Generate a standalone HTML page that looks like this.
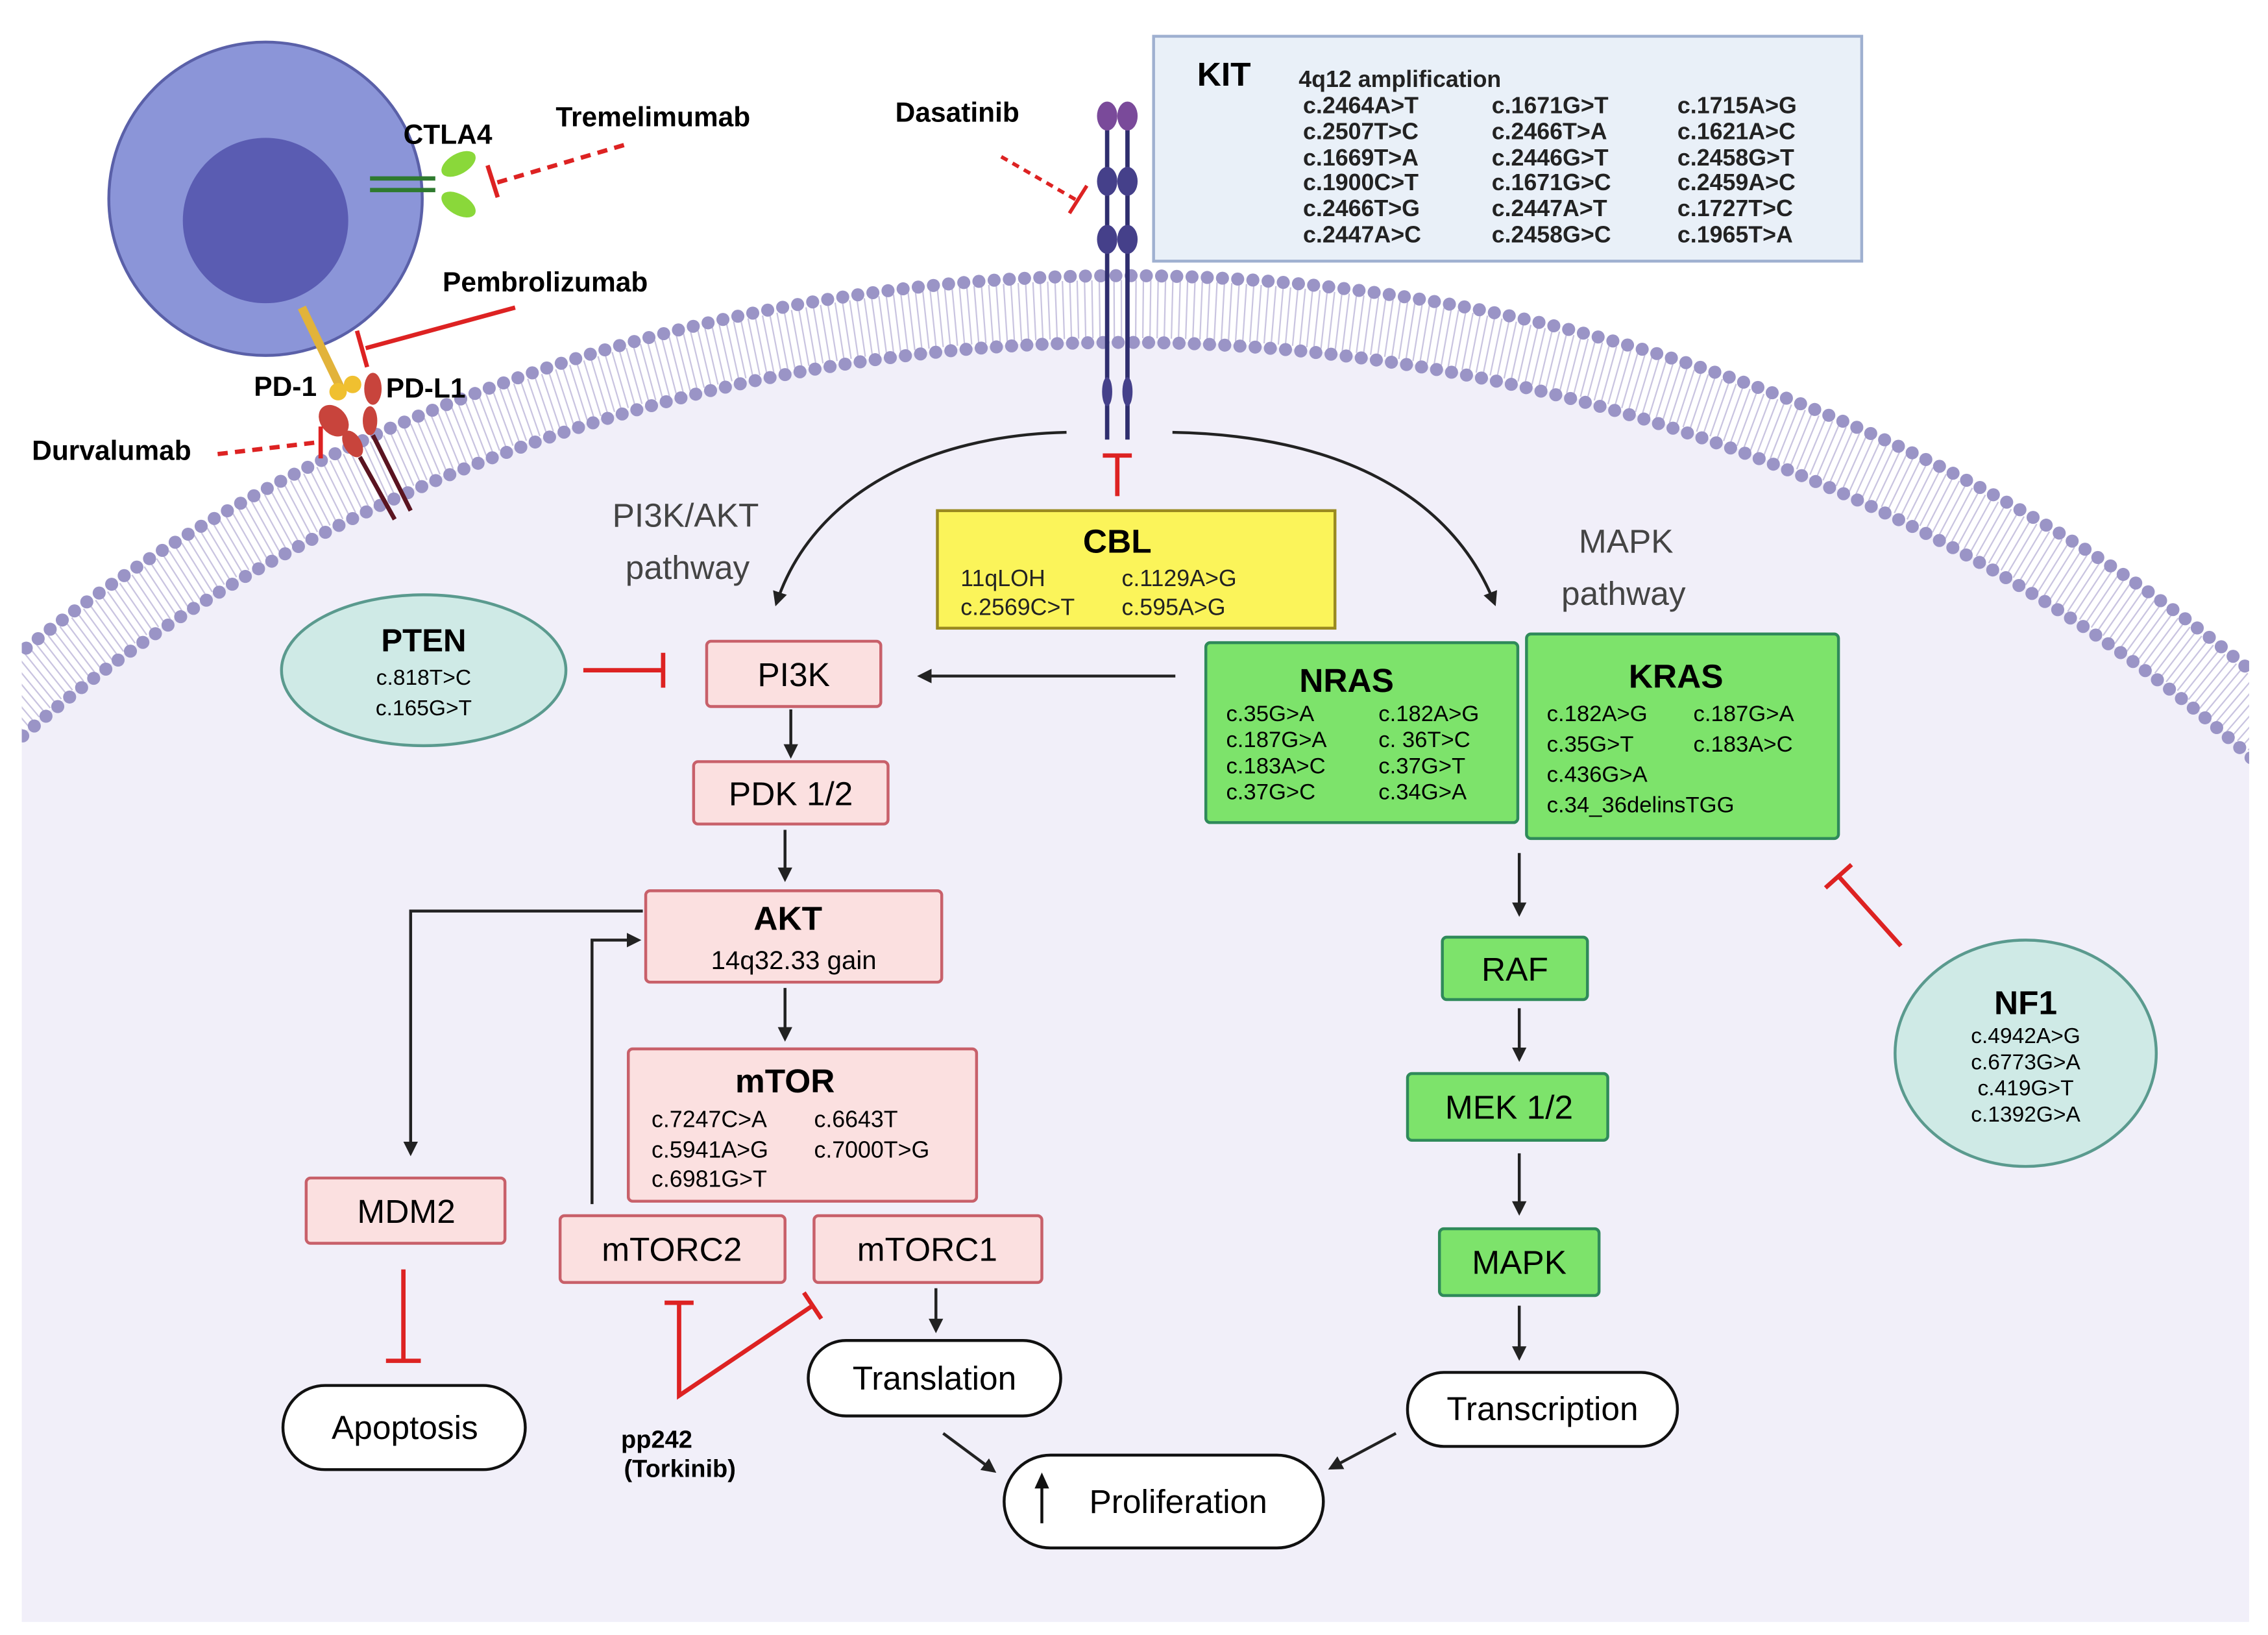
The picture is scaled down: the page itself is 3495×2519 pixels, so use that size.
<!DOCTYPE html>
<html><head><meta charset="utf-8"><style>html,body{margin:0;padding:0;background:#fff;width:3495px;height:2519px;overflow:hidden}svg{display:block}text{font-family:"Liberation Sans",sans-serif}</style></head><body>
<svg width="3495" height="2519" viewBox="0 0 1563 1127" preserveAspectRatio="none" xmlns="http://www.w3.org/2000/svg">
<defs>
<clipPath id="c"><rect x="15" y="0" width="1535" height="1118"/></clipPath>
<marker id="a" markerWidth="10" markerHeight="10" refX="8" refY="5" orient="auto" markerUnits="userSpaceOnUse"><path d="M0,0 L10,5 L0,10 z" fill="#222"/></marker>
</defs>
<rect width="1563" height="1127" fill="#fff"/>
<g clip-path="url(#c)">
<ellipse cx="775" cy="1150" rx="1070" ry="915" fill="#f1eff9"/>
<ellipse cx="775" cy="1150" rx="1090" ry="937" fill="none" stroke="#c9c4e0" stroke-width="40" stroke-dasharray="1 4"/>
<ellipse cx="775" cy="1150" rx="1112" ry="960" fill="none" stroke="#9a94c6" stroke-width="9" stroke-linecap="round" stroke-dasharray="0 10.5"/>
<ellipse cx="775" cy="1150" rx="1068" ry="914" fill="none" stroke="#9a94c6" stroke-width="9" stroke-linecap="round" stroke-dasharray="0 10.5"/>
</g>
<!-- T cell -->
<circle cx="183" cy="137" r="108" fill="#8b95d8" stroke="#5a60a8" stroke-width="2"/>
<circle cx="183" cy="152" r="57" fill="#5a5cb2"/>
<line x1="255" y1="123" x2="300" y2="123" stroke="#2e7a2e" stroke-width="3"/>
<line x1="255" y1="131" x2="300" y2="131" stroke="#2e7a2e" stroke-width="3"/>
<ellipse cx="316" cy="113" rx="13" ry="7" fill="#8ad83a" transform="rotate(-30 316 113)"/>
<ellipse cx="316" cy="141" rx="13" ry="7" fill="#8ad83a" transform="rotate(30 316 141)"/>
<text x="278" y="99" font-size="19" font-weight="bold">CTLA4</text>
<text x="383" y="87" font-size="19" font-weight="bold">Tremelimumab</text>
<line x1="430" y1="100" x2="342" y2="126" stroke="#d22" stroke-width="3" stroke-dasharray="7 5"/>
<line x1="336" y1="114" x2="343" y2="136" stroke="#d22" stroke-width="3"/>
<text x="617" y="84" font-size="19" font-weight="bold">Dasatinib</text>
<line x1="690" y1="108" x2="742" y2="138" stroke="#d22" stroke-width="2.5" stroke-dasharray="5 4"/>
<line x1="737" y1="147" x2="749" y2="128" stroke="#d22" stroke-width="2.5"/>
<!-- KIT receptor -->
<line x1="763" y1="75" x2="763" y2="303" stroke="#2f2e6e" stroke-width="3"/>
<line x1="777" y1="75" x2="777" y2="303" stroke="#2f2e6e" stroke-width="3"/>
<g fill="#5a4a9a"><ellipse cx="763" cy="80" rx="7" ry="10" fill="#7a4a9a"/><ellipse cx="777" cy="80" rx="7" ry="10" fill="#7a4a9a"/>
<ellipse cx="763" cy="125" rx="7" ry="10" fill="#45408a"/><ellipse cx="777" cy="125" rx="7" ry="10" fill="#45408a"/>
<ellipse cx="763" cy="165" rx="7" ry="10" fill="#45408a"/><ellipse cx="777" cy="165" rx="7" ry="10" fill="#45408a"/>
<ellipse cx="763" cy="270" rx="3.5" ry="10" fill="#45408a"/><ellipse cx="777" cy="270" rx="3.5" ry="10" fill="#45408a"/></g>
<rect x="795" y="25" width="488" height="155" fill="#e9f0f8" stroke="#9fb0d0" stroke-width="2"/>
<text x="825" y="59" font-size="23" font-weight="bold">KIT</text>
<text x="895" y="60" font-size="16" font-weight="bold" fill="#222">4q12 amplification</text>
<g font-size="16" font-weight="bold" fill="#222">
<text x="898" y="78">c.2464A&gt;T</text><text x="1028" y="78">c.1671G&gt;T</text><text x="1156" y="78">c.1715A&gt;G</text>
<text x="898" y="96">c.2507T&gt;C</text><text x="1028" y="96">c.2466T&gt;A</text><text x="1156" y="96">c.1621A&gt;C</text>
<text x="898" y="114">c.1669T&gt;A</text><text x="1028" y="114">c.2446G&gt;T</text><text x="1156" y="114">c.2458G&gt;T</text>
<text x="898" y="131">c.1900C&gt;T</text><text x="1028" y="131">c.1671G&gt;C</text><text x="1156" y="131">c.2459A&gt;C</text>
<text x="898" y="149">c.2466T&gt;G</text><text x="1028" y="149">c.2447A&gt;T</text><text x="1156" y="149">c.1727T&gt;C</text>
<text x="898" y="167">c.2447A&gt;C</text><text x="1028" y="167">c.2458G&gt;C</text><text x="1156" y="167">c.1965T&gt;A</text>
</g>
<!-- PD-1 / PD-L1 -->
<text x="305" y="201" font-size="19" font-weight="bold">Pembrolizumab</text>
<line x1="355" y1="212" x2="252" y2="240" stroke="#d22" stroke-width="3"/>
<line x1="246" y1="228" x2="253" y2="253" stroke="#d22" stroke-width="3"/>
<line x1="208" y1="212" x2="235" y2="268" stroke="#e2b33a" stroke-width="6"/>
<circle cx="233" cy="270" r="6" fill="#f0c030"/><circle cx="243" cy="265" r="6" fill="#f0c030"/>
<text x="175" y="273" font-size="19" font-weight="bold">PD-1</text>
<text x="266" y="274" font-size="19" font-weight="bold">PD-L1</text>
<ellipse cx="257" cy="268" rx="6" ry="11" fill="#c8443c"/><ellipse cx="255" cy="290" rx="5" ry="10" fill="#c8443c"/>
<ellipse cx="230" cy="290" rx="9" ry="12" fill="#c8443c" transform="rotate(-40 230 290)"/><ellipse cx="243" cy="306" rx="6" ry="10" fill="#c8443c" transform="rotate(-30 243 306)"/>
<line x1="248" y1="315" x2="272" y2="358" stroke="#5a1420" stroke-width="3"/>
<line x1="257" y1="300" x2="283" y2="352" stroke="#5a1420" stroke-width="3"/>
<text x="22" y="317" font-size="19" font-weight="bold">Durvalumab</text>
<line x1="150" y1="313" x2="218" y2="305" stroke="#d22" stroke-width="3" stroke-dasharray="7 5"/>
<line x1="221" y1="294" x2="221" y2="316" stroke="#d22" stroke-width="3"/>
<!-- KIT T to CBL -->
<line x1="770" y1="314" x2="770" y2="342" stroke="#d22" stroke-width="3"/>
<line x1="760" y1="314" x2="780" y2="314" stroke="#d22" stroke-width="3"/>
<rect x="646" y="352" width="274" height="81" fill="#fbf45a" stroke="#9a8a20" stroke-width="2"/>
<text x="770" y="381" font-size="23" font-weight="bold" text-anchor="middle">CBL</text>
<g font-size="16" fill="#222"><text x="662" y="404">11qLOH</text><text x="773" y="404">c.1129A&gt;G</text><text x="662" y="424">c.2569C&gt;T</text><text x="773" y="424">c.595A&gt;G</text></g>
<path d="M735,298 C640,300 560,340 535,416" fill="none" stroke="#222" stroke-width="2" marker-end="url(#a)"/>
<path d="M808,298 C920,300 1000,340 1030,416" fill="none" stroke="#222" stroke-width="2" marker-end="url(#a)"/>
<g font-size="23" fill="#444"><text x="422" y="363">PI3K/AKT</text><text x="431" y="399">pathway</text><text x="1088" y="381">MAPK</text><text x="1076" y="417">pathway</text></g>
<!-- PI3K branch -->
<ellipse cx="292" cy="462" rx="98" ry="52" fill="#cfeae6" stroke="#5a9a8e" stroke-width="2"/>
<text x="292" y="449" font-size="22" font-weight="bold" text-anchor="middle">PTEN</text>
<g font-size="15" text-anchor="middle"><text x="292" y="472">c.818T&gt;C</text><text x="292" y="493">c.165G&gt;T</text></g>
<line x1="402" y1="462" x2="457" y2="462" stroke="#d22" stroke-width="3"/><line x1="457" y1="450" x2="457" y2="474" stroke="#d22" stroke-width="3"/>
<g fill="#fbe0e0" stroke="#c8606a" stroke-width="2">
<rect x="487" y="442" width="120" height="45" rx="3"/>
<rect x="478" y="525" width="134" height="43" rx="3"/>
<rect x="445" y="614" width="204" height="63" rx="3"/>
<rect x="433" y="723" width="240" height="105" rx="3"/>
<rect x="211" y="812" width="137" height="45" rx="3"/>
<rect x="386" y="838" width="155" height="46" rx="3"/>
<rect x="561" y="838" width="157" height="46" rx="3"/>
</g>
<g font-size="23" text-anchor="middle">
<text x="547" y="473">PI3K</text><text x="545" y="555">PDK 1/2</text>
<text x="280" y="843">MDM2</text><text x="463" y="869">mTORC2</text><text x="639" y="869">mTORC1</text>
</g>
<text x="543" y="641" font-size="23" font-weight="bold" text-anchor="middle">AKT</text>
<text x="547" y="668" font-size="18" text-anchor="middle">14q32.33 gain</text>
<text x="541" y="753" font-size="23" font-weight="bold" text-anchor="middle">mTOR</text>
<g font-size="16"><text x="449" y="777">c.7247C&gt;A</text><text x="561" y="777">c.6643T</text><text x="449" y="798">c.5941A&gt;G</text><text x="561" y="798">c.7000T&gt;G</text><text x="449" y="818">c.6981G&gt;T</text></g>
<g stroke="#222" stroke-width="2" fill="none" marker-end="url(#a)">
<line x1="810" y1="466" x2="634" y2="466"/>
<line x1="545" y1="489" x2="545" y2="521"/>
<line x1="541" y1="572" x2="541" y2="606"/>
<line x1="541" y1="681" x2="541" y2="716"/>
<polyline points="443,628 283,628 283,795"/>
<polyline points="408,830 408,648 440,648"/>
<line x1="645" y1="888" x2="645" y2="917"/>
<line x1="650" y1="988" x2="685" y2="1014"/>
<line x1="962" y1="988" x2="917" y2="1012"/>
<line x1="1047" y1="588" x2="1047" y2="630"/>
<line x1="1047" y1="695" x2="1047" y2="730"/>
<line x1="1047" y1="795" x2="1047" y2="836"/>
<line x1="1047" y1="900" x2="1047" y2="936"/>
</g>
<line x1="278" y1="875" x2="278" y2="938" stroke="#d22" stroke-width="3"/><line x1="266" y1="938" x2="290" y2="938" stroke="#d22" stroke-width="3"/>
<polyline points="468,898 468,962 560,900" fill="none" stroke="#d22" stroke-width="3"/>
<line x1="458" y1="898" x2="478" y2="898" stroke="#d22" stroke-width="3"/>
<line x1="554" y1="891" x2="566" y2="909" stroke="#d22" stroke-width="3"/>
<text x="428" y="998" font-size="17" font-weight="bold">pp242</text>
<text x="430" y="1018" font-size="17" font-weight="bold">(Torkinib)</text>
<g fill="#fff" stroke="#111" stroke-width="2">
<rect x="195" y="955" width="167" height="58" rx="29"/>
<rect x="557" y="924" width="174" height="52" rx="26"/>
<rect x="692" y="1003" width="220" height="64" rx="32"/>
<rect x="970" y="946" width="186" height="51" rx="25"/>
</g>
<g font-size="23" text-anchor="middle"><text x="279" y="992">Apoptosis</text><text x="644" y="958">Translation</text><text x="812" y="1043">Proliferation</text><text x="1063" y="979">Transcription</text></g>
<line x1="718" y1="1050" x2="718" y2="1022" stroke="#111" stroke-width="2"/><path d="M713,1026 L718,1015 L723,1026 z" fill="#111"/>
<!-- MAPK branch -->
<g fill="#7de36b" stroke="#2f8a5a" stroke-width="2">
<rect x="831" y="443" width="215" height="124" rx="3"/>
<rect x="1052" y="437" width="215" height="141" rx="3"/>
<rect x="994" y="646" width="100" height="43" rx="3"/>
<rect x="970" y="740" width="138" height="46" rx="3"/>
<rect x="992" y="847" width="110" height="46" rx="3"/>
</g>
<g font-size="23" text-anchor="middle"><text x="1044" y="676">RAF</text><text x="1040" y="771">MEK 1/2</text><text x="1047" y="878">MAPK</text></g>
<text x="928" y="477" font-size="23" font-weight="bold" text-anchor="middle">NRAS</text>
<text x="1155" y="474" font-size="23" font-weight="bold" text-anchor="middle">KRAS</text>
<g font-size="15.5">
<text x="845" y="497">c.35G&gt;A</text><text x="950" y="497">c.182A&gt;G</text>
<text x="845" y="515">c.187G&gt;A</text><text x="950" y="515">c. 36T&gt;C</text>
<text x="845" y="533">c.183A&gt;C</text><text x="950" y="533">c.37G&gt;T</text>
<text x="845" y="551">c.37G&gt;C</text><text x="950" y="551">c.34G&gt;A</text>
<text x="1066" y="497">c.182A&gt;G</text><text x="1167" y="497">c.187G&gt;A</text>
<text x="1066" y="518">c.35G&gt;T</text><text x="1167" y="518">c.183A&gt;C</text>
<text x="1066" y="539">c.436G&gt;A</text><text x="1066" y="560">c.34_36delinsTGG</text>
</g>
<ellipse cx="1396" cy="726" rx="90" ry="78" fill="#cfeae6" stroke="#5a9a8e" stroke-width="2"/>
<text x="1396" y="699" font-size="23" font-weight="bold" text-anchor="middle">NF1</text>
<g font-size="15" text-anchor="middle"><text x="1396" y="719">c.4942A&gt;G</text><text x="1396" y="737">c.6773G&gt;A</text><text x="1396" y="755">c.419G&gt;T</text><text x="1396" y="773">c.1392G&gt;A</text></g>
<line x1="1310" y1="652" x2="1267" y2="604" stroke="#d22" stroke-width="3"/>
<line x1="1258" y1="612" x2="1276" y2="596" stroke="#d22" stroke-width="3"/>
</svg>
</body></html>
